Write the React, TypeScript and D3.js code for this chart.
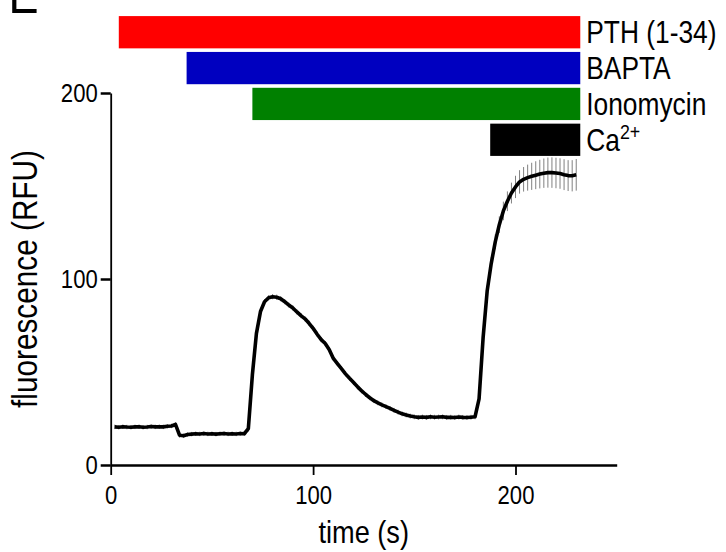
import React, { useEffect, useRef } from 'react';
import * as d3 from 'd3';

// ---- data ----
const times = [
  2, 4, 6, 8, 10, 12, 14, 16, 18, 20, 22, 24, 26, 28, 30, 32, 34, 36, 38, 40,
  42, 44, 46, 48, 50, 52, 54, 56, 58, 60, 62, 64, 66, 68, 70, 72, 74, 76, 78, 80,
  82, 84, 86, 88, 90, 92, 94, 96, 98, 100, 102, 104, 106, 108, 110, 112, 114, 116, 118, 120,
  122, 124, 126, 128, 130, 132, 134, 136, 138, 140, 142, 144, 146, 148, 150, 152, 154, 156, 158, 160,
  162, 164, 166, 168, 170, 172, 174, 176, 178, 180, 182, 184, 186, 188, 190, 192, 194, 196, 198, 200,
  202, 204, 206, 208, 210, 212, 214, 216, 218, 220, 222, 224, 226, 228, 230,
];

const means = [
  20.5, 20.3, 20.6, 20.4, 20.3, 20.5, 20.6, 20.3, 20.4, 20.7, 20.5, 20.6, 20.5, 20.8, 21.0, 21.8, 16.0, 15.7, 16.4, 16.6,
  16.8, 16.7, 16.9, 16.7, 16.8, 16.6, 16.8, 16.9, 16.7, 16.8, 16.7, 16.9, 16.8, 19.5, 48.5, 70.8, 82.5, 87.8, 89.9, 90.5,
  90.2, 89.4, 87.8, 86.0, 84.4, 82.3, 80.3, 78.6, 76.2, 73.5, 70.3, 67.4, 65.3, 62.0, 57.3, 54.5, 51.8, 49.0, 46.6, 44.4,
  42.0, 39.8, 37.9, 36.1, 34.6, 33.4, 32.3, 31.4, 30.4, 29.4, 28.4, 27.5, 26.9, 26.3, 25.9, 25.6, 25.8, 25.6, 25.9, 25.7,
  25.8, 25.9, 25.6, 25.7, 25.5, 25.8, 25.6, 25.5, 25.7, 25.9, 35.5, 68.5, 93.5, 108.3, 120.0, 129.2, 136.6, 141.8, 146.2, 149.5,
  152.2, 153.6, 154.5, 155.2, 155.8, 156.4, 156.9, 157.2, 157.2, 157.0, 156.7, 156.1, 155.6, 155.5, 156.0,
];

const sems = [
  1.2, 1.2, 1.2, 1.2, 1.2, 1.2, 1.2, 1.2, 1.2, 1.2, 1.2, 1.2, 1.2, 1.2, 1.2, 1.2, 1.3, 1.2, 1.2, 1.2,
  1.2, 1.2, 1.2, 1.2, 1.2, 1.2, 1.2, 1.2, 1.2, 1.2, 1.2, 1.2, 1.2, 1.5, 1.8, 1.5, 1.4, 1.4, 1.4, 1.4,
  1.4, 1.4, 1.4, 1.4, 1.4, 1.4, 1.4, 1.4, 1.4, 1.4, 1.4, 1.4, 1.4, 1.4, 1.4, 1.3, 1.3, 1.3, 1.3, 1.3,
  1.3, 1.3, 1.3, 1.3, 1.3, 1.3, 1.3, 1.3, 1.3, 1.3, 1.3, 1.3, 1.3, 1.3, 1.3, 1.3, 1.3, 1.3, 1.3, 1.3,
  1.3, 1.3, 1.3, 1.3, 1.3, 1.3, 1.3, 1.3, 1.3, 1.3, 2.0, 2.5, 3.0, 3.5, 4.0, 4.5, 5.0, 5.3, 5.6, 6.0,
  6.3, 6.6, 7.0, 7.3, 7.5, 7.7, 7.9, 8.1, 8.2, 8.2, 8.2, 8.3, 8.3, 8.4, 8.5,
];

const treatments = ['PTH (1-34)', 'BAPTA', 'Ionomycin', 'Ca2+'];
const treatmentStart = [4, 37.5, 70, 187.5];
const treatmentEnd = [232, 232, 232, 232];
const treatmentColors = ['#ff0000', '#0000c0', '#008000', '#000000'];

const xTicks = [0, 100, 200];
const yTicks = [0, 100, 200];
const xDomain = [0, 250];
const yDomain = [0, 200];
const xLabel = 'time (s)';
const yLabel = 'fluorescence (RFU)';
const panelLetter = 'E';

const W = 726;
const H = 552;
const FONT = '"Liberation Sans", Arial, Helvetica, sans-serif';
const SX = 0.85; // horizontal condensing of the lettering

export default function App() {
  const ref = useRef<SVGSVGElement | null>(null);

  useEffect(() => {
    const svg = d3.select(ref.current);
    svg.selectAll('*').remove();

    const x = d3.scaleLinear().domain(xDomain).range([110.7, 616.7]);
    const y = d3.scaleLinear().domain(yDomain).range([465, 93]);

    const addText = (
      parent: any,
      tx: number,
      ty: number,
      size: number,
      anchor: string,
      rotate = 0,
    ) =>
      parent
        .append('g')
        .attr('transform', `translate(${tx},${ty}) rotate(${rotate}) scale(${SX},1)`)
        .append('text')
        .attr('font-family', FONT)
        .attr('font-size', size)
        .attr('text-anchor', anchor)
        .attr('fill', '#000');

    // panel letter (cut off at top)
    addText(svg, 8.6, 13.3, 53, 'start').text(panelLetter);

    // treatment bars
    const band = d3.scaleBand<string>().domain(treatments).range([12.5, 159.5]).padding(0.1);
    svg
      .append('g')
      .selectAll('rect')
      .data(treatments)
      .join('rect')
      .attr('x', (_d, i) => x(treatmentStart[i]))
      .attr('width', (_d, i) => x(treatmentEnd[i]) - x(treatmentStart[i]))
      .attr('y', (d) => band(d) as number)
      .attr('height', band.bandwidth())
      .attr('fill', (_d, i) => treatmentColors[i]);

    treatments.forEach((t, i) => {
      const tx = addText(svg, x(treatmentEnd[i]) + 6, (band(t) as number) + band.bandwidth() / 2, 31, 'start').attr(
        'dy',
        '0.36em',
      );
      if (t === 'Ca2+') {
        tx.append('tspan').text('Ca');
        tx.append('tspan').attr('font-size', 21).attr('dy', -12).text('2+');
      } else {
        tx.text(t);
      }
    });

    // axes
    const tickPad = 3;
    const gx = svg
      .append('g')
      .attr('transform', `translate(0,${y(0)})`)
      .call(d3.axisBottom(x).tickValues(xTicks).tickSize(10).tickSizeOuter(0).tickPadding(11).tickFormat(d3.format('d')));
    const gy = svg
      .append('g')
      .attr('transform', `translate(${x(0)},0)`)
      .call(d3.axisLeft(y).tickValues(yTicks).tickSize(10).tickSizeOuter(0).tickPadding(tickPad).tickFormat(d3.format('d')));
    gx.selectAll('path.domain').attr('stroke-width', 2.5);
    gx.selectAll('.tick line').attr('stroke-width', 1.8);
    gy.selectAll('path.domain').attr('stroke-width', 1.8);
    gy.selectAll('.tick line').attr('stroke-width', 2.5);
    [gx, gy].forEach((g) => {
      g.attr('font-family', FONT).attr('font-size', 26);
      g.selectAll('path.domain').attr('stroke', '#000');
      g.selectAll('.tick line').attr('stroke', '#000');
      g.selectAll('.tick text').attr('fill', '#000').attr('transform', `scale(${SX},1)`);
    });
    gy.selectAll('.tick text').attr('x', -(10 + tickPad) / SX);

    // axis titles
    addText(svg, (x(xDomain[0]) + x(xDomain[1])) / 2, 543, 32, 'middle').text(xLabel);
    addText(svg, 36.5, (y(yDomain[0]) + y(yDomain[1])) / 2, 35, 'middle', -90).text(yLabel);

    // error bars
    svg
      .append('g')
      .selectAll('line')
      .data(times)
      .join('line')
      .attr('x1', (t) => x(t))
      .attr('x2', (t) => x(t))
      .attr('y1', (_t, i) => y(means[i] - sems[i]))
      .attr('y2', (_t, i) => y(means[i] + sems[i]))
      .attr('stroke', '#808080')
      .attr('stroke-width', 1);

    // mean trace
    const line = d3
      .line<number>()
      .x((t) => x(t))
      .y((_t, i) => y(means[i]));
    svg
      .append('path')
      .datum(times)
      .attr('d', line)
      .attr('fill', 'none')
      .attr('stroke', '#000')
      .attr('stroke-width', 3.6)
      .attr('stroke-linejoin', 'round');
  }, []);

  return (
    <div style={{ position: 'absolute', left: 0, top: 0, width: W, height: H, background: '#fff' }}>
      <svg ref={ref} width={W} height={H} style={{ display: 'block' }} />
    </div>
  );
}
